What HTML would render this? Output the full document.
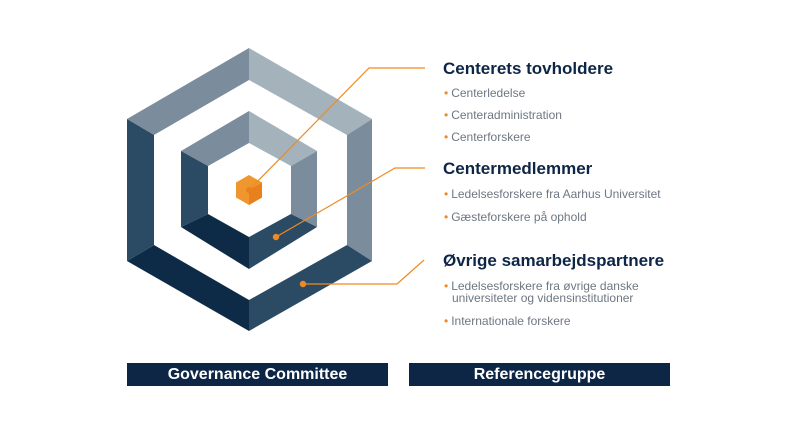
<!DOCTYPE html>
<html><head><meta charset="utf-8"><style>
html,body{margin:0;padding:0;background:#fff;}
body{width:800px;height:429px;position:relative;overflow:hidden;font-family:"Liberation Sans",sans-serif;}
.h{position:absolute;left:443px;font-weight:bold;font-size:17px;color:#0d2646;white-space:nowrap;}
.b{position:absolute;left:444px;font-size:12px;color:#6d7782;white-space:nowrap;line-height:12px;}
.b:before{content:"•";color:#ef8a22;margin-right:3px;}
.bar{position:absolute;top:363px;height:23px;background:#0d2646;color:#fff;font-weight:bold;font-size:16px;text-align:center;line-height:23px;}
</style></head><body>
<svg width="800" height="429" style="position:absolute;left:0;top:0">
<!-- outer hex frame -->
<polygon points="249,48 127,119 154,135 249,80" fill="#7b8d9c"/>
<polygon points="249,48 372,119 347,135 249,80" fill="#a4b2bc"/>
<polygon points="372,119 372,261 347,245 347,135" fill="#7b8d9c"/>
<polygon points="372,261 249,331 249,300 347,245" fill="#2b4a63"/>
<polygon points="249,331 127,261 154,245 249,300" fill="#0d2b47"/>
<polygon points="127,261 127,119 154,135 154,245" fill="#2b4a63"/>
<!-- inner hex frame -->
<polygon points="249,111 181,151 208,166 249,143" fill="#7b8d9c"/>
<polygon points="249,111 317,151 291,166 249,143" fill="#a4b2bc"/>
<polygon points="317,151 317,227 291,214 291,166" fill="#7b8d9c"/>
<polygon points="317,227 249,269 249,237 291,214" fill="#2b4a63"/>
<polygon points="249,269 181,227 208,214 249,237" fill="#0d2b47"/>
<polygon points="181,227 181,151 208,166 208,214" fill="#2b4a63"/>
<!-- orange hex -->
<polygon points="249,175 262,182.5 262,197.5 249,205 236,197.5 236,182.5" fill="#f0962f"/>
<polygon points="249,190 262,182.5 262,197.5 249,205" fill="#e8801c"/>
<!-- connectors -->
<g stroke="#ef8a22" stroke-width="1.2" fill="none">
<polyline points="249,190 369,68 425,68"/>
<polyline points="276,237 395,168 425,168"/>
<polyline points="303,284 397,284 424,260"/>
</g>
<circle cx="249" cy="190" r="3" fill="#e8801c"/>
<circle cx="276" cy="237" r="3.2" fill="#ef8a22"/>
<circle cx="303" cy="284" r="3.2" fill="#ef8a22"/>
</svg>
<div class="h" style="top:59px">Centerets tovholdere</div>
<div class="b" style="top:87px">Centerledelse</div>
<div class="b" style="top:109px">Centeradministration</div>
<div class="b" style="top:131px">Centerforskere</div>
<div class="h" style="top:159px">Centermedlemmer</div>
<div class="b" style="top:188px">Ledelsesforskere fra Aarhus Universitet</div>
<div class="b" style="top:211px">Gæsteforskere på ophold</div>
<div class="h" style="top:251px">Øvrige samarbejdspartnere</div>
<div class="b" style="top:280px">Ledelsesforskere fra øvrige danske<br><span style="padding-left:8px">universiteter og vidensinstitutioner</span></div>
<div class="b" style="top:315px">Internationale forskere</div>
<div class="bar" style="left:127px;width:261px">Governance Committee</div>
<div class="bar" style="left:409px;width:261px">Referencegruppe</div>
</body></html>
